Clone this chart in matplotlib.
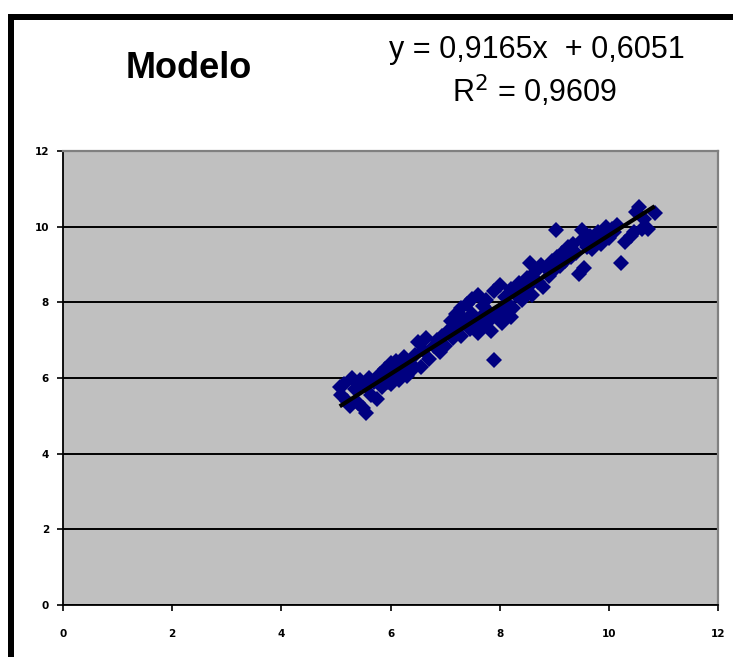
"""
Scatter of observed vs. model values with linear trendline (Excel style).
"""
import matplotlib
matplotlib.use("Agg")
import matplotlib.pyplot as plt
from matplotlib.patches import Rectangle
import numpy as np

# ---------------------------------------------------------------------------
# Data
# ---------------------------------------------------------------------------
x_vals = [
    5.07, 5.10, 5.15, 5.20, 5.25, 5.30, 5.35, 5.40, 5.45, 5.50, 5.55, 5.55,
    5.60, 5.65, 5.70, 5.75, 5.80, 5.85, 5.90, 5.95, 6.00, 6.00,
    6.05, 6.10, 6.15, 6.20, 6.25, 6.30, 6.35, 6.40, 6.45, 6.50, 6.55, 6.60,
    6.65, 6.70, 6.80, 6.85, 6.90, 6.95, 7.00,
    7.05, 7.10, 7.15, 7.20, 7.25, 7.30, 7.30, 7.35, 7.40, 7.45, 7.50, 7.50,
    7.55, 7.60, 7.60, 7.65, 7.70, 7.70, 7.75, 7.80, 7.80, 7.85, 7.90, 7.90,
    7.95, 8.00,
    8.00, 8.05, 8.10, 8.10, 8.15, 8.20, 8.20, 8.25, 8.30, 8.35, 8.40, 8.45,
    8.50, 8.55, 8.55, 8.60, 8.65, 8.70, 8.75, 8.80, 8.85, 8.90, 8.95, 9.00,
    9.03, 9.05, 9.10, 9.15, 9.20, 9.25, 9.30, 9.35, 9.40, 9.45, 9.50, 9.50,
    9.55, 9.60, 9.65, 9.70, 9.75, 9.80, 9.85, 9.90, 9.95, 10.00,
    10.05, 10.10, 10.15, 10.23, 10.30, 10.40, 10.47, 10.50, 10.56, 10.60,
    10.65, 10.72, 10.84,
]
y_vals = [
    5.75, 5.55, 5.85, 5.40, 5.25, 6.00, 5.70, 5.35, 5.95, 5.20, 5.08, 5.80,
    6.00, 5.55, 5.90, 5.45, 6.10, 5.75, 6.25, 5.90, 6.40, 5.85,
    6.15, 6.45, 5.95, 6.30, 6.55, 6.05, 6.40, 6.20, 6.60, 6.95, 6.30, 6.75,
    7.05, 6.50, 6.85, 7.00, 6.70, 7.10, 6.85,
    7.25, 7.50, 7.05, 7.70, 7.35, 7.85, 7.10, 7.55, 7.95, 7.30, 7.70, 8.10,
    7.45, 8.20, 7.20, 7.60, 7.90, 7.35, 8.05, 7.50, 7.75, 7.25, 6.47, 8.30,
    7.60, 7.80,
    8.45, 7.45, 8.15, 7.70, 7.95, 8.35, 7.60, 7.85, 8.20, 8.50, 8.05, 8.30,
    8.65, 8.45, 9.05, 8.20, 8.80, 8.55, 9.00, 8.40, 8.90, 8.70, 9.10, 8.85,
    9.92, 9.20, 8.95, 9.30, 9.10, 9.45, 9.20, 9.55, 9.30, 8.75, 9.65, 9.92,
    8.90, 9.45, 9.75, 9.40, 9.60, 9.85, 9.55, 9.75, 10.00, 9.70,
    9.95, 9.85, 10.05, 9.04, 9.60, 9.75, 9.85, 10.40, 10.52, 9.95,
    10.20, 9.95, 10.37,
]

# Trendline as printed on the chart
slope = 0.9165
intercept = 0.6051
r_squared = 0.9609

axis_ticks = [0, 2, 4, 6, 8, 10, 12]

# ---------------------------------------------------------------------------
# Styling
# ---------------------------------------------------------------------------
POINT_COLOR = "#000080"
PLOT_BG = "#c0c0c0"
BORDER_GREY = "#808080"

W, H = 733, 657
fig = plt.figure(figsize=(W / 100, H / 100), dpi=100)
fig.patch.set_facecolor("white")

ax = fig.add_axes([63 / W, 1 - 605 / H, (718 - 63) / W, (605 - 151) / H])
ax.set_facecolor(PLOT_BG)

x = np.array(x_vals)
y = np.array(y_vals)
ax.plot(x, y, linestyle="none", marker="D", markersize=8.5,
        color=POINT_COLOR, markeredgewidth=0, zorder=3)

# linear trendline over the data range
x_line = np.array([x.min(), x.max()])
ax.plot(x_line, slope * x_line + intercept, color="black", linewidth=3,
        solid_capstyle="butt", zorder=4)

ax.set_xlim(0, 12)
ax.set_ylim(0, 12)
ax.set_xticks(axis_ticks)
ax.set_yticks(axis_ticks)
ax.set_xticklabels([str(t) for t in axis_ticks])
ax.set_yticklabels([str(t) for t in axis_ticks])

ax.grid(axis="y", color="black", linewidth=1.4, zorder=1)
ax.set_axisbelow(True)

for side in ("top", "right"):
    ax.spines[side].set_color(BORDER_GREY)
    ax.spines[side].set_linewidth(1.6)
for side in ("left", "bottom"):
    ax.spines[side].set_color("black")
    ax.spines[side].set_linewidth(1.3)

ax.tick_params(axis="both", direction="out", length=4, width=1.2,
               color="black", labelsize=7.5)
ax.tick_params(axis="x", pad=13)
ax.tick_params(axis="y", pad=6)
for lbl in ax.get_xticklabels() + ax.get_yticklabels():
    lbl.set_fontweight("bold")

# Title and equation
fig.text(189 / W, 1 - 68 / H, "Modelo", fontsize=26, fontweight="bold",
         family="Liberation Sans", ha="center", va="center")
eq = f"y = {slope:.4f}x  + {intercept:.4f}".replace(".", ",")
fig.text(537 / W, 1 - 50 / H, eq, fontsize=22, family="Liberation Sans",
         ha="center", va="center")
r2 = f"R$^2$ = {r_squared:.4f}".replace(".", ",")
fig.text(535 / W, 1 - 91 / H, r2, fontsize=22, family="Liberation Sans",
         ha="center", va="center")

# Black frame pieces (top and left edge of the screenshot)
fig.add_artist(Rectangle((8 / W, 1 - 20 / H), 1 - 8 / W, 6 / H,
                         transform=fig.transFigure, color="black", lw=0))
fig.add_artist(Rectangle((8 / W, 0), 6 / W, 1 - 14 / H,
                         transform=fig.transFigure, color="black", lw=0))

fig.savefig("out.png", dpi=100)
